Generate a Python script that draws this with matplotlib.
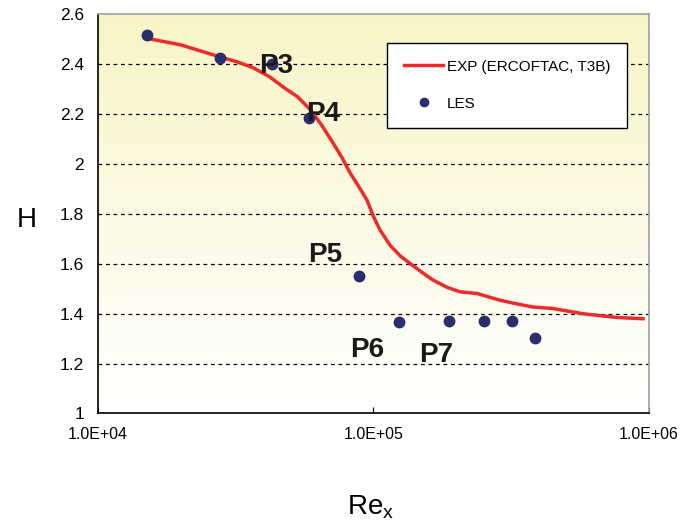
import numpy as np
import matplotlib
matplotlib.use("Agg")
import matplotlib.pyplot as plt
from matplotlib.lines import Line2D

# Experimental curve (ERCOFTAC T3B)
exp_re = [1.506e4, 1.58e4, 2.0e4, 2.77e4, 3.2e4, 3.65e4, 4.2e4, 4.69e4, 5.3e4, 5.88e4,
          6.5e4, 7.13e4, 7.7e4, 8.22e4, 8.9e4, 9.47e4, 1.0e5,
          1.056e5, 1.148e5, 1.25e5, 1.356e5, 1.5e5, 1.645e5, 1.85e5, 2.06e5, 2.38e5,
          2.88e5, 3.3e5, 3.79e5, 4.48e5, 5.76e5, 7.65e5, 9.52e5]
exp_h = [2.505, 2.50, 2.478, 2.43, 2.41, 2.387, 2.35, 2.31, 2.27, 2.22,
         2.155, 2.085, 2.025, 1.965, 1.905, 1.856, 1.79,
         1.736, 1.675, 1.632, 1.602, 1.566, 1.535, 1.506, 1.488, 1.481,
         1.454, 1.44, 1.427, 1.421, 1.40, 1.385, 1.38]

# LES points
les_re = [1.506e4, 2.77e4, 4.3e4, 5.85e4, 8.88e4, 1.234e5, 1.885e5, 2.51e5, 3.18e5, 3.85e5]
les_h = [2.516, 2.427, 2.403, 2.185, 1.552, 1.365, 1.371, 1.371, 1.371, 1.304]

labels = ["P3", "P4", "P5", "P6", "P7"]
label_re = [4.43e4, 6.58e4, 6.67e4, 9.51e4, 1.686e5]
label_h = [2.392, 2.199, 1.635, 1.254, 1.236]

yticks = [1, 1.2, 1.4, 1.6, 1.8, 2, 2.2, 2.4, 2.6]
ytick_labels = ["1", "1.2", "1.4", "1.6", "1.8", "2", "2.2", "2.4", "2.6"]
xticks = [1e4, 1e5, 1e6]
xtick_labels = ["1.0E+04", "1.0E+05", "1.0E+06"]

plt.rcParams['font.family'] = ['Liberation Sans', 'DejaVu Sans']

fig = plt.figure(figsize=(6.93, 5.31), dpi=100)
ax = fig.add_axes([0.1414, 0.2213, 0.795, 0.7514])
ax.set_xscale('log')
ax.set_xlim(1e4, 1e6)
ax.set_ylim(1, 2.6)

# background gradient: pale yellow top -> white bottom
grad = np.linspace(1, 0, 256).reshape(-1, 1)
top = np.array([0.975, 0.960, 0.780])
bot = np.array([1.0, 1.0, 1.0])
img = bot[None, None, :] * (1 - grad[:, :, None]) + top[None, None, :] * grad[:, :, None]
ax.imshow(img, extent=[0, 1, 0, 1], transform=ax.transAxes, aspect='auto', zorder=0)

for y in [1.2, 1.4, 1.6, 1.8, 2.0, 2.2, 2.4]:
    ax.axhline(y, color='black', lw=0.9, ls=(0, (3, 3)), zorder=1)

ax.plot(exp_re, exp_h, color='#ee2a2a', lw=2.5, zorder=3, solid_joinstyle='round')
ax.plot(les_re, les_h, 'o', color='#2a2d6e', ms=7.5, zorder=4, ls='none')

for t, xr, yh in zip(labels, label_re, label_h):
    ax.text(xr, yh, t, fontsize=20, fontweight='bold', ha='center', va='center', zorder=5,
            color='#1a1a1a')

ax.set_xticks(xticks)
ax.set_xticklabels(xtick_labels, fontsize=11.5)
ax.xaxis.set_minor_locator(matplotlib.ticker.NullLocator())
ax.set_yticks(yticks)
ax.set_yticklabels(ytick_labels, fontsize=12.5)
ax.tick_params(axis='x', direction='in', length=4, pad=10, colors='black')
ax.tick_params(axis='y', length=0, pad=10)

for s in ['left', 'bottom']:
    ax.spines[s].set_color('black')
    ax.spines[s].set_linewidth(1.2)
for s in ['top', 'right']:
    ax.spines[s].set_color('#a0a0a0')
    ax.spines[s].set_linewidth(1.2)

fig.text(0.039, 0.585, "H", fontsize=20, ha='center', va='center')
fig.text(0.535, 0.045, r"Re$_\mathregular{x}$", fontsize=20, ha='center', va='center')

handles = [Line2D([0], [0], color='#ee2a2a', lw=2.5),
           Line2D([0], [0], marker='o', color='#2a2d6e', ls='none', ms=6)]
leg = ax.legend(handles, ["EXP (ERCOFTAC, T3B)", "LES"],
                loc='upper left', bbox_to_anchor=(0.5245, 0.9286), borderaxespad=0,
                frameon=True, fancybox=False, edgecolor='black', framealpha=1,
                handlelength=2.6, borderpad=1.1, labelspacing=1.5, handletextpad=0.2,
                prop={'family': ['Liberation Sans Narrow', 'Liberation Sans'], 'size': 11})
leg.get_frame().set_linewidth(1.0)
leg.set_zorder(6)

fig.savefig("out.png", dpi=100)
